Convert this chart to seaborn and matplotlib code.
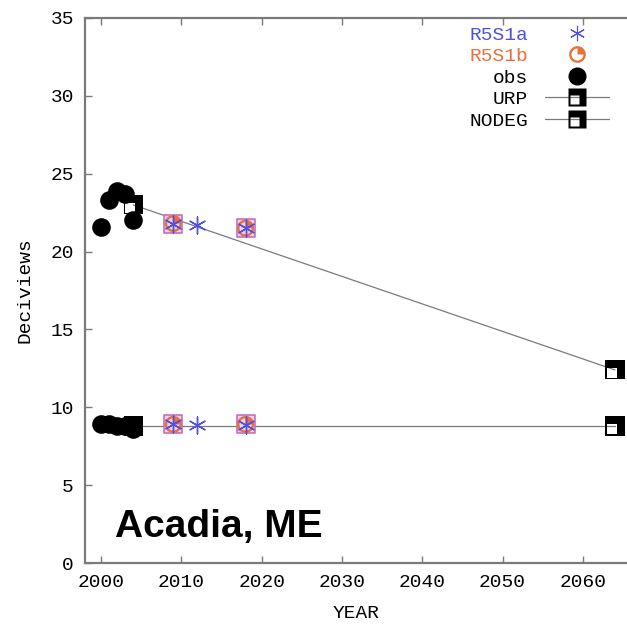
import numpy as np
import pandas as pd
import matplotlib
matplotlib.use("Agg")
import matplotlib.pyplot as plt
from matplotlib.path import Path
from matplotlib.lines import Line2D
import seaborn as sns

# ---- data ----
obs_years = [2000, 2001, 2002, 2003, 2004]
obs_worst = [21.6, 23.3, 23.9, 23.7, 22.0]
obs_best = [8.9, 8.9, 8.8, 8.8, 8.6]

urp_years = [2004, 2064]
urp_vals = [23.0, 12.4]
nodeg_years = [2004, 2064]
nodeg_vals = [8.8, 8.8]

r5s1a_years = [2009, 2012, 2018]
r5s1a_worst = [21.8, 21.7, 21.5]
r5s1a_best = [8.9, 8.85, 8.85]

r5s1b_years = [2009, 2018]
r5s1b_worst = [21.8, 21.5]
r5s1b_best = [8.9, 8.9]

x_ticks = [2000, 2010, 2020, 2030, 2040, 2050, 2060]
y_ticks = [0, 5, 10, 15, 20, 25, 30, 35]
title_text = "Acadia, ME"

# ---- style ----
sns.set_style("ticks")
mono = ["Liberation Mono", "DejaVu Sans Mono"]
plt.rcParams["font.family"] = mono
plt.rcParams["text.color"] = "black"
plt.rcParams["axes.labelcolor"] = "black"
plt.rcParams["xtick.labelcolor"] = "black"
plt.rcParams["ytick.labelcolor"] = "black"

BLUE = "#5050e0"
ORANGE = "#e8703a"
GRAY = "#7a7a7a"

# custom markers (shapes only)
def square_marker():
    outer = [(-1, -1), (1, -1), (1, 1), (-1, 1), (-1, -1)]
    inner = [(-0.82, -0.82), (-0.82, 0.2), (0.2, 0.2), (0.2, -0.82), (-0.82, -0.82)]
    verts = outer + inner
    codes = [Path.MOVETO] + [Path.LINETO] * 3 + [Path.CLOSEPOLY]
    codes = codes + codes
    return Path(verts, codes)

def pie_marker():
    t = np.linspace(0, 2 * np.pi, 61)
    outer = list(zip(np.cos(t), np.sin(t)))
    inner = list(zip(0.72 * np.cos(t[::-1]), 0.72 * np.sin(t[::-1])))
    tw = np.linspace(0, np.pi / 2, 16)
    wedge = [(0, 0)] + list(zip(0.72 * np.cos(tw), 0.72 * np.sin(tw))) + [(0, 0)]
    verts = outer + inner + wedge
    codes = ([Path.MOVETO] + [Path.LINETO] * (len(outer) - 1)
             + [Path.MOVETO] + [Path.LINETO] * (len(inner) - 1)
             + [Path.MOVETO] + [Path.LINETO] * (len(wedge) - 1))
    return Path(verts, codes)

SQ = square_marker()
PIE = pie_marker()

fig = plt.figure(figsize=(6.27, 6.26), dpi=100)
ax = fig.add_axes([85 / 627, 1 - 563 / 626, 1 - 85 / 627, (563 - 18) / 626])

# lines
lines_df = pd.DataFrame({
    "year": urp_years + nodeg_years,
    "val": urp_vals + nodeg_vals,
    "series": ["URP"] * len(urp_years) + ["NODEG"] * len(nodeg_years),
})
sns.lineplot(data=lines_df, x="year", y="val", units="series", estimator=None,
             color=GRAY, lw=0.9, ax=ax, legend=False, zorder=2)

# square markers on line ends
sns.scatterplot(x=urp_years + nodeg_years, y=urp_vals + nodeg_vals, marker=SQ,
                s=190, color="black", edgecolor="none", ax=ax, legend=False, zorder=4)

# observations
sns.scatterplot(x=obs_years * 2, y=obs_worst + obs_best, marker="o", s=180,
                color="black", edgecolor="black", linewidth=0, ax=ax, legend=False, zorder=3)

# R5S1 squares (purple outline background)
sns.scatterplot(x=r5s1b_years * 2, y=r5s1b_worst + r5s1b_best, marker="s", s=150,
                facecolor="#f0d0e8", edgecolor="#c070c0", linewidth=1.2, ax=ax, legend=False, zorder=4)
sns.scatterplot(x=r5s1b_years * 2, y=r5s1b_worst + r5s1b_best, marker=PIE, s=150,
                color=ORANGE, edgecolor="none", ax=ax, legend=False, zorder=5)
sns.scatterplot(x=r5s1a_years * 2, y=r5s1a_worst + r5s1a_best, marker=(6, 2, 0), s=150,
                color=BLUE, linewidth=1.0, ax=ax, legend=False, zorder=6)

ax.set_xlim(1998.0, 2065.5)
ax.set_ylim(0, 35)
ax.set_xticks(x_ticks)
ax.set_yticks(y_ticks)
ax.tick_params(axis="both", direction="in", length=5, width=1, color=GRAY,
               labelsize=14, pad=8)
ax.tick_params(axis="x", top=True)
for side in ["left", "bottom", "top"]:
    ax.spines[side].set_color(GRAY)
    ax.spines[side].set_linewidth(1.6)
ax.spines["right"].set_visible(False)

ax.set_xlabel("YEAR", fontsize=14, labelpad=10)
ax.set_ylabel("Deciviews", fontsize=14, labelpad=12)

fig.text(115 / 627, 1 - 537 / 626, title_text, fontsize=28, fontweight="bold",
         color="black", family=["Liberation Sans", "DejaVu Sans"], ha="left", va="baseline")

# legend
handles = [
    Line2D([], [], ls="none", marker=(6, 2, 0), ms=11, mec=BLUE, mew=0.8),
    Line2D([], [], ls="none", marker=PIE, ms=12, mfc=ORANGE, mec="none"),
    Line2D([], [], ls="none", marker="o", ms=12, mfc="black", mec="black"),
    Line2D([], [], ls="-", color=GRAY, lw=0.9, marker=SQ, ms=13, mfc="black", mec="none"),
    Line2D([], [], ls="-", color=GRAY, lw=0.9, marker=SQ, ms=13, mfc="black", mec="none"),
]
labels = ["R5S1a", "R5S1b", "obs", "URP", "NODEG"]
leg = ax.legend(handles, labels, loc="upper right", markerfirst=False, frameon=False,
                fontsize=14, handlelength=3.3, handletextpad=0.85, labelspacing=0.2,
                borderaxespad=0.0, borderpad=0.0)
leg.set_bbox_to_anchor((609 / 627, 1 - 26 / 626), transform=fig.transFigure)
for txt, c in zip(leg.get_texts(), [BLUE, ORANGE, "black", "black", "black"]):
    txt.set_color(c)

fig.savefig("out.png", dpi=100)
